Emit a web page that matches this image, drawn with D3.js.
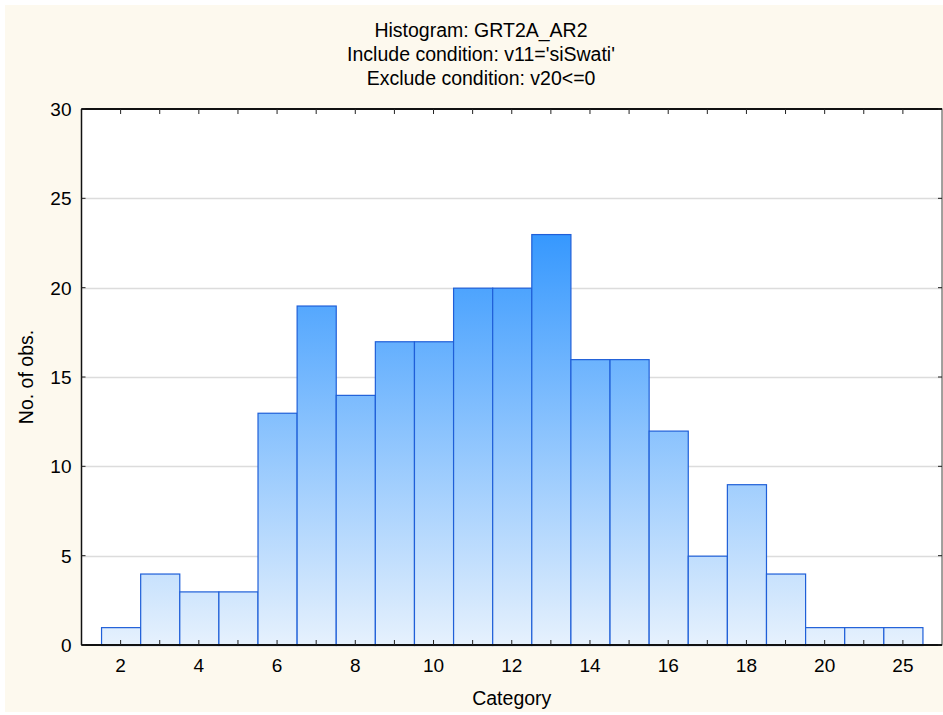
<!DOCTYPE html>
<html>
<head>
<meta charset="utf-8">
<script src="https://cdn.jsdelivr.net/npm/d3@7"></script>
<style>
    body { margin: 0; background: #fff; }
    text { font-family: "Liberation Sans", Arial, sans-serif; fill: #000; }
</style>
</head>
<body>
<div id="chart"></div>
<script>
// histogram counts per category
const categories = ['2', '3', '4', '5', '6', '7', '8', '9', '10', '11', '12', '13', '14',
    '15', '16', '17', '18', '19', '20', '22', '25'];
const counts = [1, 4, 3, 3, 13, 19, 14, 17, 17, 20, 20, 23, 16, 16, 12, 5, 9, 4, 1, 1, 1];
const tickLabels = ['2', '4', '6', '8', '10', '12', '14', '16', '18', '20', '25'];
const yTicks = [0, 5, 10, 15, 20, 25, 30];
const titleLines = [
    'Histogram: GRT2A_AR2',
    "Include condition: v11='siSwati'",
    'Exclude condition: v20<=0',
];

const width = 943;
const height = 715;
const margin = { top: 109, right: 1, bottom: 70, left: 81.5 };
const innerW = width - margin.left - margin.right;
const innerH = height - margin.top - margin.bottom;

const svg = d3.select('#chart')
    .append('svg')
    .attr('width', width)
    .attr('height', height);

// cream page background
svg.append('rect')
    .attr('x', 5)
    .attr('y', 5)
    .attr('width', width - 5)
    .attr('height', height - 8)
    .attr('fill', '#fdf9ee');

const x = d3.scaleBand()
    .domain(categories)
    .range([0, innerW])
    .paddingInner(0)
    .paddingOuter(0.5);

const y = d3.scaleLinear()
    .domain([0, 30])
    .range([innerH, 0]);

const defs = svg.append('defs');
const grad = defs.append('linearGradient')
    .attr('id', 'barFill')
    .attr('gradientUnits', 'userSpaceOnUse')
    .attr('x1', 0).attr('x2', 0)
    .attr('y1', y(0)).attr('y2', y(23));
grad.append('stop').attr('offset', 0).attr('stop-color', '#e6f1fd');
grad.append('stop').attr('offset', 1).attr('stop-color', '#3698fe');

const g = svg.append('g')
    .attr('transform', `translate(${margin.left},${margin.top})`);

g.append('rect')
    .attr('width', innerW)
    .attr('height', innerH)
    .attr('fill', '#fff');

// gridlines
g.append('g')
    .selectAll('line')
    .data(yTicks.slice(1, -1))
    .join('line')
    .attr('x1', 0)
    .attr('x2', innerW)
    .attr('y1', d => Math.round(y(d)) + 0.5)
    .attr('y2', d => Math.round(y(d)) + 0.5)
    .attr('stroke', '#dcdcdc')
    .attr('stroke-width', 1.5);

// bars
g.append('g')
    .selectAll('rect')
    .data(counts)
    .join('rect')
    .attr('x', (d, i) => x(categories[i]) + 0.5)
    .attr('y', d => y(d) + 0.5)
    .attr('width', x.bandwidth())
    .attr('height', d => innerH - y(d))
    .attr('fill', 'url(#barFill)')
    .attr('stroke', '#1f5fd8')
    .attr('stroke-width', 1.2);

// frame
g.append('rect')
    .attr('width', innerW)
    .attr('height', innerH)
    .attr('fill', 'none')
    .attr('stroke', '#444')
    .attr('stroke-width', 1);
g.append('line')
    .attr('x1', 0).attr('x2', innerW)
    .attr('y1', innerH).attr('y2', innerH)
    .attr('stroke', '#111').attr('stroke-width', 2);
g.append('line')
    .attr('x1', 0).attr('x2', innerW)
    .attr('y1', 0).attr('y2', 0)
    .attr('stroke', '#111').attr('stroke-width', 2);
g.append('line')
    .attr('x1', 0).attr('x2', 0)
    .attr('y1', 0).attr('y2', innerH)
    .attr('stroke', '#111').attr('stroke-width', 1.5);

// inward ticks on all four sides
const xTickPos = categories.map(c => x(c) + x.bandwidth() / 2);
g.append('g')
    .selectAll('line')
    .data(xTickPos)
    .join('line')
    .attr('x1', d => d).attr('x2', d => d)
    .attr('y1', innerH).attr('y2', innerH - 5)
    .attr('stroke', '#222');
g.append('g')
    .selectAll('line')
    .data(xTickPos)
    .join('line')
    .attr('x1', d => d).attr('x2', d => d)
    .attr('y1', 0).attr('y2', 5)
    .attr('stroke', '#222');
g.append('g')
    .selectAll('line')
    .data(yTicks)
    .join('line')
    .attr('x1', 0).attr('x2', 4)
    .attr('y1', d => y(d)).attr('y2', d => y(d))
    .attr('stroke', '#222');
g.append('g')
    .selectAll('line')
    .data(yTicks)
    .join('line')
    .attr('x1', innerW).attr('x2', innerW - 4)
    .attr('y1', d => y(d)).attr('y2', d => y(d))
    .attr('stroke', '#222');

// tick labels
const labelCats = categories.filter(c => tickLabels.includes(c));
g.append('g')
    .selectAll('text')
    .data(labelCats)
    .join('text')
    .attr('x', d => x(d) + x.bandwidth() / 2)
    .attr('y', innerH + 27)
    .attr('text-anchor', 'middle')
    .attr('font-size', 19)
    .text(d => d);

g.append('g')
    .selectAll('text')
    .data(yTicks)
    .join('text')
    .attr('x', -10)
    .attr('y', d => y(d) + 7)
    .attr('text-anchor', 'end')
    .attr('font-size', 19)
    .text(d => d);

// axis titles
svg.append('text')
    .attr('x', margin.left + innerW / 2)
    .attr('y', 705)
    .attr('text-anchor', 'middle')
    .attr('font-size', 19.5)
    .text('Category');

svg.append('text')
    .attr('transform', `translate(33,${margin.top + innerH / 2}) rotate(-90)`)
    .attr('text-anchor', 'middle')
    .attr('font-size', 19.5)
    .text('No. of obs.');

// title
svg.append('g')
    .selectAll('text')
    .data(titleLines)
    .join('text')
    .attr('x', 481)
    .attr('y', (d, i) => 37 + i * 24)
    .attr('text-anchor', 'middle')
    .attr('font-size', 19.5)
    .text(d => d);
</script>
</body>
</html>
